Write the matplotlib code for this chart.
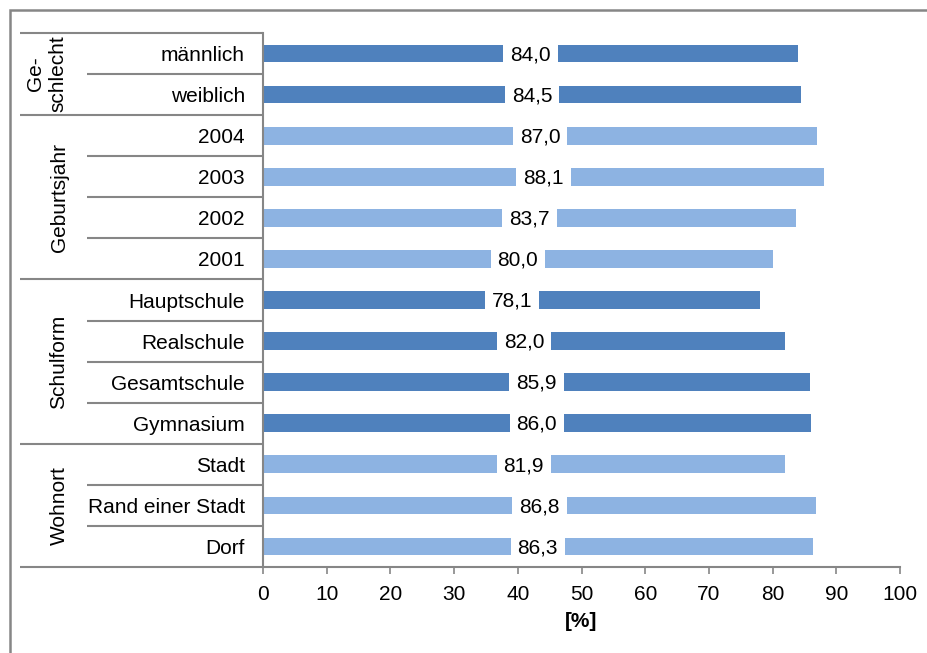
import matplotlib
matplotlib.use("Agg")
import matplotlib.pyplot as plt
from matplotlib.patches import Rectangle

plt.rcParams['font.family'] = ['Liberation Sans', 'DejaVu Sans']

# Data
groups = ["Ge-\nschlecht", "Geburtsjahr", "Schulform", "Wohnort"]
group_sizes = [2, 4, 4, 3]
categories = ["männlich", "weiblich",
              "2004", "2003", "2002", "2001",
              "Hauptschule", "Realschule", "Gesamtschule", "Gymnasium",
              "Stadt", "Rand einer Stadt", "Dorf"]
values = [84.0, 84.5,
          87.0, 88.1, 83.7, 80.0,
          78.1, 82.0, 85.9, 86.0,
          81.9, 86.8, 86.3]
xticks = [0, 10, 20, 30, 40, 50, 60, 70, 80, 90, 100]

dark = "#4F81BD"
light = "#8DB3E2"
grid_col = "#868686"
group_colors = [dark, light, dark, light]
FS = 15

W, H = 927, 653
fig = plt.figure(figsize=(W / 100, H / 100), dpi=100)
fig.patch.set_facecolor("white")

# outer frame
fig.add_artist(Rectangle((10 / W, -0.05), 1.1, 1 - 10 / H + 0.05,
                         transform=fig.transFigure, fill=False,
                         edgecolor=grid_col, linewidth=1.8))

x0, x1, ytop, ybot = 263, 900, 33, 567
ax = fig.add_axes([x0 / W, 1 - ybot / H, (x1 - x0) / W, (ybot - ytop) / H])

n = len(categories)
ypos = list(range(n))
colors = []
for c, s in zip(group_colors, group_sizes):
    colors += [c] * s

ax.barh(ypos, values, height=0.43, color=colors, zorder=2)
ax.set_ylim(n - 0.5, -0.5)
ax.set_xlim(0, 100)

for y, v in zip(ypos, values):
    ax.text(v / 2, y + 0.03, f"{v:.1f}".replace(".", ","), ha="center",
            va="center", fontsize=FS, color="black", zorder=3,
            bbox=dict(facecolor="white", edgecolor="none", pad=5))

ax.set_yticks(ypos)
ax.set_yticklabels(categories, fontsize=FS)
ax.tick_params(axis="y", length=0, pad=13)
ax.set_xticks(xticks)
ax.set_xticklabels([str(t) for t in xticks], fontsize=FS)
ax.tick_params(axis="x", length=5, width=1.2, color=grid_col, pad=8)
ax.set_xlabel("[%]", fontsize=FS, fontweight="bold", labelpad=6)

for side in ["top", "right"]:
    ax.spines[side].set_visible(False)
for side in ["left", "bottom"]:
    ax.spines[side].set_color(grid_col)
    ax.spines[side].set_linewidth(1.5)

# category and group separators left of the axis
tr = ax.get_yaxis_transform()
xa_full = (20 - x0) / (x1 - x0)
xa_inner = (87 - x0) / (x1 - x0)
start = 0
boundaries_group = [-0.5]
for s in group_sizes:
    start += s
    boundaries_group.append(start - 0.5)
for b in range(n + 1):
    yb = b - 0.5
    xs = xa_full if yb in boundaries_group else xa_inner
    ax.plot([xs, 0], [yb, yb], transform=tr, color=grid_col, lw=1.5,
            clip_on=False, zorder=1, solid_capstyle="butt")

# group labels
for g, a, b in zip(groups, boundaries_group[:-1], boundaries_group[1:]):
    px = 47 if "\n" in g else 59
    ax.text((px - x0) / (x1 - x0), (a + b) / 2, g, transform=tr,
            rotation=90, ha="center", va="center", fontsize=FS,
            multialignment="center", linespacing=1.25)

fig.savefig("out.png", dpi=100, facecolor="white")
